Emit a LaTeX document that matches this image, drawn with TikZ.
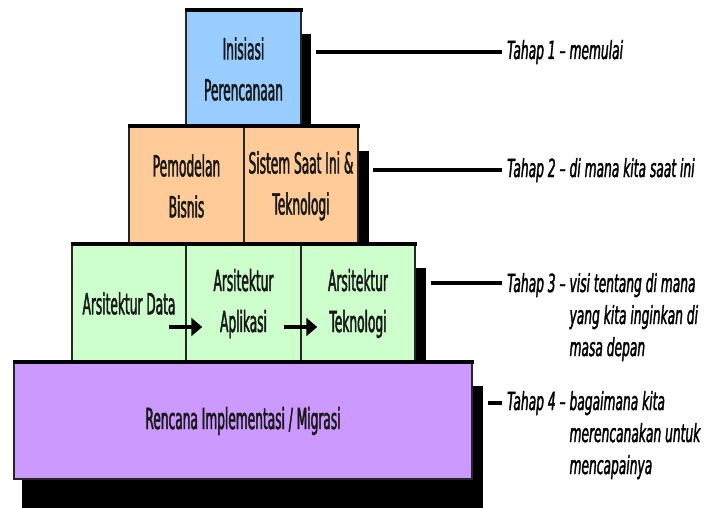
\documentclass[tikz,border=0pt]{standalone}
\usepackage{fontspec}
\usetikzlibrary{arrows.meta,calc}
\newfontfamily\boxfont[FakeStretch=0.42,FakeBold=1.6]{DejaVu Sans}
\newfontfamily\tahapfont[FakeStretch=0.49,FakeBold=1.4]{DejaVu Sans}
\definecolor{cblue}{HTML}{99CCFF}
\definecolor{corange}{HTML}{FFCC99}
\definecolor{cgreen}{HTML}{CCFFCC}
\definecolor{cpurple}{HTML}{CC99FF}
\pgfdeclarelayer{background}
\pgfsetlayers{background,main}
\begin{document}
\begin{tikzpicture}[x=1pt,y=-1pt,
  cell/.style={draw=black!85, line width=1.5pt, rectangle, inner sep=0pt, align=center,
    font=\boxfont\fontsize{29}{41}\selectfont, text=black!90},
  shadowfill/.style={fill=black},
  topedge/.style={draw=black, line width=4pt},
  conn/.style={draw=black, line width=3.5pt},
  arr/.style={draw=black, line width=4pt, -{Triangle[length=11pt,width=18pt]}},
  tahap/.style={anchor=base west, inner sep=0pt, font=\tahapfont\itshape\fontsize{25}{32}\selectfont}]
\useasboundingbox (0,0) rectangle (704,508);
% boxes (nodes)
\node[cell, fill=cblue, minimum width=115pt, minimum height=116pt] (b1) at (243.5,69) {Inisiasi\\Perencanaan};
\node[cell, fill=corange, minimum width=115pt, minimum height=118pt] (o1) at (186.5,186) {Pemodelan\\Bisnis};
\node[cell, fill=corange, minimum width=114pt, minimum height=118pt] (o2) at (301,186) {Sistem Saat Ini \&\\Teknologi};
\node[cell, fill=cgreen, minimum width=114pt, minimum height=117pt] (g1) at (129,303.5) {Arsitektur Data};
\node[cell, fill=cgreen, minimum width=115pt, minimum height=117pt] (g2) at (243.5,303.5) {Arsitektur\\Aplikasi};
\node[cell, fill=cgreen, minimum width=114pt, minimum height=117pt] (g3) at (358,303.5) {Arsitektur\\Teknologi};
\node[cell, fill=cpurple, minimum width=458pt, minimum height=116pt] (p) at (243,421) {Rencana Implementasi / Migrasi};
% shadows behind
\begin{pgfonlayer}{background}
  \fill[shadowfill] ($(b1.north west)+(9,24)$) rectangle ($(b1.south east)+(9,24)$);
  \fill[shadowfill] ($(o1.north west)+(9,25)$) rectangle ($(o2.south east)+(10,25)$);
  \fill[shadowfill] ($(g1.north west)+(9,24)$) rectangle ($(g3.south east)+(10,24)$);
  \fill[shadowfill] ($(p.north west)+(9,24)$) rectangle ($(p.south east)+(10,34)$);
\end{pgfonlayer}
% thick top edges
\draw[topedge] ([xshift=-0.75pt]b1.north west) -- ([xshift=0.75pt]b1.north east);
\draw[topedge] ([xshift=-0.75pt]o1.north west) -- ([xshift=0.75pt]o2.north east);
\draw[topedge] ([xshift=-0.75pt]g1.north west) -- ([xshift=0.75pt]g3.north east);
\draw[topedge] ([xshift=-0.75pt]p.north west) -- ([xshift=0.75pt]p.north east);
% arrows in the architecture row
\draw[arr] ($(g1.east)+(-18,23.5)$) -- ($(g2.west)+(17,23.5)$);
\draw[arr] ($(g2.east)+(-18,23.5)$) -- ($(g3.west)+(17,23.5)$);
% stage labels
\node[tahap] (t1) at (507,59) {Tahap 1 – memulai};
\node[tahap] (t2) at (507,177) {Tahap 2 – di mana kita saat ini};
\node[tahap] (t3) at (507,292) {Tahap 3 – \begin{tabular}[t]{@{}l@{}}visi tentang di mana\\yang kita inginkan di\\masa depan\end{tabular}};
\node[tahap] (t4) at (507,410) {Tahap 4 – \begin{tabular}[t]{@{}l@{}}bagaimana kita\\merencanakan untuk\\mencapainya\end{tabular}};
% connectors
\draw[conn] ([xshift=14pt,yshift=7pt]b1.east |- t1.base) -- ([xshift=-5pt,yshift=7pt]t1.base west);
\draw[conn] ([xshift=14pt,yshift=7pt]o2.east |- t2.base) -- ([xshift=-5pt,yshift=7pt]t2.base west);
\draw[conn] ([xshift=15pt,yshift=9pt]g3.east |- t3.base) -- ([xshift=-5pt,yshift=9pt]t3.base west);
\draw[conn] ([xshift=15pt,yshift=7pt]p.east |- t4.base) -- ([xshift=-5pt,yshift=7pt]t4.base west);
\end{tikzpicture}
\end{document}
